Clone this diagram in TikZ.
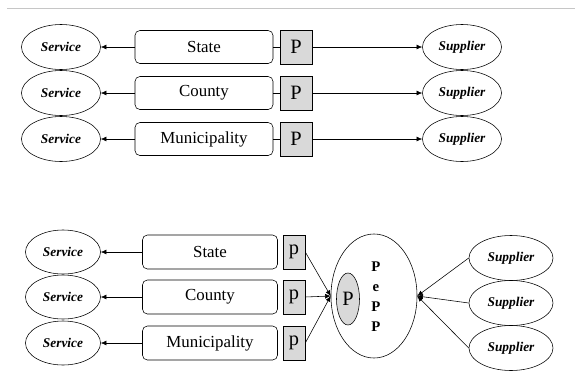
\documentclass[tikz,border=0pt]{standalone}
\usepackage{fontspec}
\setmainfont{Liberation Serif}
\usetikzlibrary{shapes.geometric,arrows.meta}

\begin{document}
\begin{tikzpicture}[x=0.025cm, y=-0.025cm, >={Latex[length=4pt,width=3.5pt]},
		every node/.style={inner sep=0pt},
		svc/.style={ellipse, draw, minimum width=1.975cm, minimum height=1.125cm, font=\fontsize{9.5}{11}\selectfont\bfseries\itshape},
		lvl/.style={rectangle, rounded corners=3.5pt, draw, minimum width=3.45cm, minimum height=0.825cm, font=\fontsize{12}{14}\selectfont},
		pbox/.style={rectangle, draw, fill=gray!30, minimum width=0.8cm, minimum height=0.85cm, font=\fontsize{14.5}{16}\selectfont}]
	\useasboundingbox (0,0) rectangle (575,384);
	\draw[gray!45, line width=0.6pt] (7,8) -- (575,8);

	% separate systems
	\node[svc] (s1) at (61, 47) {Service};
	\node[svc] (s2) at (61, 93) {Service};
	\node[svc] (s3) at (61, 139) {Service};
	\node[lvl] (l1) at (204, 47) {State};
	\node[lvl] (l2) at (204, 93) {County};
	\node[lvl] (l3) at (204, 139) {Municipality};
	\node[pbox] (p1) at (296, 47) {P};
	\node[pbox] (p2) at (296, 93) {P};
	\node[pbox] (p3) at (296, 139) {P};
	\node[svc] (u1) at (462, 47) {Supplier};
	\node[svc] (u2) at (462, 93) {Supplier};
	\node[svc] (u3) at (462, 139) {Supplier};

	\draw[->] (l1) -- (s1);
	\draw[->] (l2) -- (s2);
	\draw[->] (l3) -- (s3);
	\draw (l1) -- (p1);
	\draw (l2) -- (p2);
	\draw (l3) -- (p3);
	\draw[->] (p1) -- (u1);
	\draw[->] (p2) -- (u2);
	\draw[->] (p3) -- (u3);

	% shared PePP
	\node[svc, minimum width=1.875cm, minimum height=1.1cm] (bs1) at (63, 252) {Service};
	\node[svc, minimum width=1.875cm, minimum height=1.1cm] (bs2) at (63, 297) {Service};
	\node[svc, minimum width=1.875cm, minimum height=1.1cm] (bs3) at (63, 343) {Service};
	\node[lvl, minimum width=3.375cm, minimum height=0.85cm] (bl1) at (210, 252) {State};
	\node[lvl, minimum width=3.375cm, minimum height=0.85cm] (bl2) at (210, 297) {County};
	\node[lvl, minimum width=3.375cm, minimum height=0.85cm] (bl3) at (210, 343) {Municipality};
	\node[pbox, minimum width=0.55cm] (bp1) at (294, 252) {p};
	\node[pbox, minimum width=0.55cm] (bp2) at (294, 297) {p};
	\node[pbox, minimum width=0.55cm] (bp3) at (294, 343) {p};
	\node[ellipse, draw, minimum width=2.15cm, minimum height=3.1cm] (pepp) at (374, 296) {};
	\node[ellipse, draw, fill=gray!30, minimum width=0.575cm, minimum height=1.3cm, font=\fontsize{14.5}{16}\selectfont] (pin) at (348, 299) {P};
	\node[align=center, font=\fontsize{10.5}{14.2}\selectfont\bfseries] (ptxt) at (376, 297) {P\\e\\P\\P};
	\node[svc, minimum width=2.1cm] (bu1) at (511, 258) {Supplier};
	\node[svc, minimum width=2.1cm] (bu2) at (511, 303) {Supplier};
	\node[svc, minimum width=2.1cm] (bu3) at (511, 348) {Supplier};

	\draw[->] (bl1) -- (bs1);
	\draw[->] (bl2) -- (bs2);
	\draw[->] (bl3) -- (bs3);
	\draw[->] (bp1.east) -- (pepp.west);
	\draw[->] (bp2.east) -- (pepp.west);
	\draw[->] (bp3.east) -- (pepp.west);
	\draw[->] (bu1.west) -- (pepp.east);
	\draw[->] (bu2.west) -- (pepp.east);
	\draw[->] (bu3.west) -- (pepp.east);
\end{tikzpicture}
\end{document}
